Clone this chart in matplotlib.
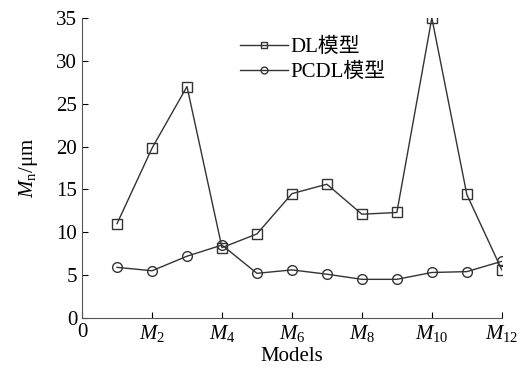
import matplotlib.pyplot as plt
import numpy as np

plt.rcParams['font.family'] = ['Liberation Serif', 'Noto Sans CJK SC']
plt.rcParams['mathtext.fontset'] = 'custom'
plt.rcParams['mathtext.it'] = 'Liberation Serif:italic'
plt.rcParams['mathtext.rm'] = 'Liberation Serif'

# Datos
modelos = np.arange(1, 13)
dl = [11.0, 19.8, 27.0, 8.2, 9.8, 14.5, 15.6, 12.1, 12.3, 35.0, 14.4, 5.6]
pcdl = [5.9, 5.5, 7.2, 8.5, 5.2, 5.6, 5.1, 4.5, 4.5, 5.3, 5.4, 6.6]
xticks = [0, 2, 4, 6, 8, 10, 12]
xlabels = ['0'] + [f'$M_{{{i}}}$' for i in xticks[1:]]

fig = plt.figure(figsize=(5.26, 3.74), dpi=100)
ax = fig.add_axes([0.156, 0.150, 0.798, 0.802])

color = '#333333'
ax.plot(modelos, dl, color=color, lw=1.0, marker='s', ms=6.5,
        mfc='none', mec=color, mew=1.0, label='DL模型')
ax.plot(modelos, pcdl, color=color, lw=1.0, marker='o', ms=7,
        mfc='none', mec=color, mew=1.0, label='PCDL模型')

ax.set_xlim(0, 12)
ax.set_ylim(0, 35)
ax.set_xticks(xticks)
ax.set_xticklabels(xlabels)
ax.set_yticks(np.arange(0, 36, 5))
ax.tick_params(direction='in', length=4, labelsize=15, width=0.8)
ax.spines['top'].set_visible(False)
ax.spines['right'].set_visible(False)
for s in ['left', 'bottom']:
    ax.spines[s].set_color('#555555')

ax.set_xlabel('Models', fontsize=15, labelpad=2)
ax.set_ylabel('$M_\\mathrm{n}$/μm', fontsize=15, labelpad=12)

ax.legend(loc='upper left', bbox_to_anchor=(0.376, 0.935), frameon=False,
          fontsize=15, handlelength=2.3, handletextpad=0.1, labelspacing=0.25,
          markerscale=0.7, borderaxespad=0, borderpad=0)

plt.savefig('out.png', dpi=100)
